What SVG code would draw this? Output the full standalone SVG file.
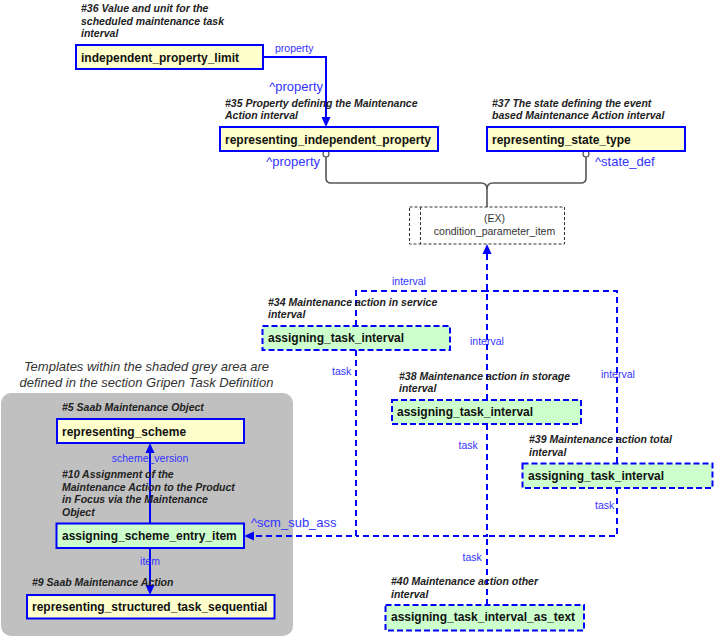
<svg xmlns="http://www.w3.org/2000/svg" width="714" height="638" viewBox="0 0 714 638">
<style>
.ann{font-family:"Liberation Sans",Arial,sans-serif;font-size:10.5px;font-weight:bold;font-style:italic;fill:#222}
.lbl{font-family:"Liberation Sans",Arial,sans-serif;font-size:12px;font-weight:bold;fill:#111}
.ys{fill:#ffffcc;stroke:#0000ff;stroke-width:2}
.gs{fill:#ccffcc;stroke:#0000ff;stroke-width:2}
.gd{fill:#ccffcc;stroke:#0000ff;stroke-width:2;stroke-dasharray:6 3}
.cl{fill:none;stroke:#0000ff;stroke-width:2}
.cd{fill:none;stroke:#0000ff;stroke-width:2;stroke-dasharray:6 4}
.sm{font-family:"Liberation Sans",Arial,sans-serif;font-size:10.5px;fill:#3333ff}
.bg{font-family:"Liberation Sans",Arial,sans-serif;font-size:13px;fill:#3333ff}
.ex{font-family:"Liberation Sans",Arial,sans-serif;font-size:10.5px;fill:#333}
</style>
<defs>
<marker id="ah" markerUnits="userSpaceOnUse" markerWidth="12" markerHeight="10" refX="2" refY="4.5" orient="auto" overflow="visible">
<path d="M0,0 L10,4.5 L0,9 z" fill="#0000ff" stroke="none"/>
</marker>
</defs>
<rect width="714" height="638" fill="#ffffff"/>
<g id="grey-area">
<rect x="1" y="393" width="292" height="243" rx="10" fill="#c0c0c0"/>
<text x="146.5" y="371" text-anchor="middle" font-family="Liberation Sans, Arial, sans-serif" font-size="13" font-style="italic" fill="#333">Templates within the shaded grey area are</text>
<text x="146.5" y="387" text-anchor="middle" font-family="Liberation Sans, Arial, sans-serif" font-size="13" font-style="italic" fill="#333">defined in the section Gripen Task Definition</text>
</g>
<g id="connectors">
<path class="cl" d="M263,57 H326 V119" marker-end="url(#ah)"/>
<path d="M326,157 V178 Q326,183 331,183 H481 Q487,183 487,189 V207 M586,157 V178 Q586,183 581,183 H493 Q487,183 487,189" fill="none" stroke="#555" stroke-width="1.6"/>
<circle cx="326" cy="154" r="3" fill="#fff" stroke="#555" stroke-width="1.2"/>
<circle cx="586" cy="154" r="3" fill="#fff" stroke="#555" stroke-width="1.2"/>
<path class="cd" d="M487,400 V252" marker-end="url(#ah)"/>
<path class="cd" d="M356,326 V291 H487"/>
<path class="cd" d="M617,463 V291 H487"/>
<path class="cd" d="M356,350 V536 H252" marker-end="url(#ah)"/>
<path class="cd" d="M487,424 V536 H356"/>
<path class="cd" d="M617,488 V536 H487"/>
<path class="cd" d="M487,605 V536"/>
<path class="cl" d="M150,523 V451" marker-end="url(#ah)"/>
<path class="cl" d="M150,548 V587" marker-end="url(#ah)"/>
<text class="sm" x="275" y="51.5">property</text>
<text class="bg" x="323" y="90.5" text-anchor="end">^property</text>
<text class="bg" x="320" y="166" text-anchor="end">^property</text>
<text class="bg" x="595" y="166">^state_def</text>
<text class="sm" x="392" y="285">interval</text>
<text class="sm" x="470" y="345">interval</text>
<text class="sm" x="601" y="378">interval</text>
<text class="sm" x="332" y="374.5">task</text>
<text class="sm" x="458.5" y="449">task</text>
<text class="sm" x="595" y="509">task</text>
<text class="sm" x="462.5" y="561">task</text>
<text class="bg" x="251" y="527">^scm_sub_ass</text>
<text class="sm" x="150" y="462" text-anchor="middle">scheme_version</text>
<text class="sm" x="150" y="565" text-anchor="middle">item</text>
</g>
<g id="n36">
<text class="ann" x="81" y="12">#36 Value and unit for the</text>
<text class="ann" x="81" y="24.5">scheduled maintenance task</text>
<text class="ann" x="81" y="37">interval</text>
<rect class="ys" x="76" y="45" width="187" height="24"/>
<text class="lbl" x="81" y="61.5">independent_property_limit</text>
</g>
<g id="n35">
<text class="ann" x="225" y="106.5">#35 Property defining the Maintenance</text>
<text class="ann" x="225" y="119">Action interval</text>
<rect class="ys" x="220" y="127" width="218" height="24"/>
<text class="lbl" x="225" y="144">representing_independent_property</text>
</g>
<g id="n37">
<text class="ann" x="492" y="106.5">#37 The state defining the event</text>
<text class="ann" x="492" y="119">based Maintenance Action interval</text>
<rect class="ys" x="487" y="127" width="198" height="24"/>
<text class="lbl" x="492" y="143.5">representing_state_type</text>
</g>
<g id="ex">
<rect x="409.5" y="207" width="155" height="37" fill="#fff" stroke="#333" stroke-width="1" stroke-dasharray="3 2"/>
<line x1="420.5" y1="207" x2="420.5" y2="244" stroke="#333" stroke-width="1" stroke-dasharray="3 2"/>
<text class="ex" x="494.5" y="221.5" text-anchor="middle">(EX)</text>
<text class="ex" x="494.5" y="235" text-anchor="middle">condition_parameter_item</text>
</g>
<g id="n34">
<text class="ann" x="268" y="305.5">#34 Maintenance action in service</text>
<text class="ann" x="268" y="317.5">interval</text>
<rect class="gd" x="262.5" y="326" width="187.5" height="24"/>
<text class="lbl" x="268" y="341.5">assigning_task_interval</text>
</g>
<g id="n38">
<text class="ann" x="399" y="379.5">#38 Maintenance action in storage</text>
<text class="ann" x="399" y="391.5">interval</text>
<rect class="gd" x="392" y="400" width="189" height="24"/>
<text class="lbl" x="397" y="415.5">assigning_task_interval</text>
</g>
<g id="n39">
<text class="ann" x="529" y="443">#39 Maintenance action total</text>
<text class="ann" x="529" y="455.5">interval</text>
<rect class="gd" x="522.5" y="463.5" width="190" height="24.5"/>
<text class="lbl" x="528" y="479.5">assigning_task_interval</text>
</g>
<g id="n40">
<text class="ann" x="391" y="585">#40 Maintenance action other</text>
<text class="ann" x="391" y="598">interval</text>
<rect class="gd" x="385.5" y="605" width="198.5" height="25.5"/>
<text class="lbl" x="391" y="621">assigning_task_interval_as_text</text>
</g>
<g id="n5">
<text class="ann" x="62" y="410.5">#5 Saab Maintenance Object</text>
<rect class="ys" x="57" y="419" width="187" height="24"/>
<text class="lbl" x="62" y="436">representing_scheme</text>
</g>
<g id="n10">
<text class="ann" x="62" y="478">#10 Assignment of the</text>
<text class="ann" x="62" y="490.5">Maintenance Action to the Product</text>
<text class="ann" x="62" y="503">in Focus via the Maintenance</text>
<text class="ann" x="62" y="516">Object</text>
<rect class="gs" x="56.5" y="523.5" width="187.5" height="24.5"/>
<text class="lbl" x="62" y="539.5">assigning_scheme_entry_item</text>
</g>
<g id="n9">
<text class="ann" x="32" y="586">#9 Saab Maintenance Action</text>
<rect class="ys" x="27" y="595" width="247.5" height="23.5"/>
<text class="lbl" x="32" y="611">representing_structured_task_sequential</text>
</g>
</svg>
